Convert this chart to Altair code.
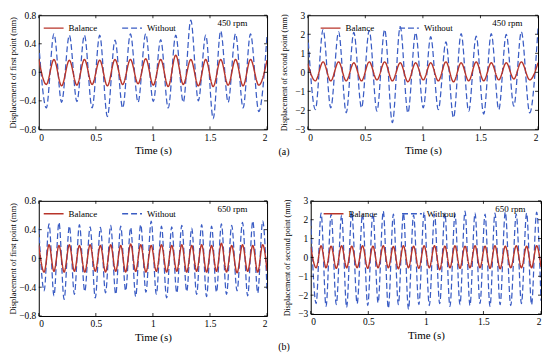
import altair as alt
import pandas as pd

FONT = "Liberation Serif"
RED = "#b8342a"
BLUE = "#3a5cc4"
SERIES = ["Balance", "Without"]

X_TICKS = [0, 0.5, 1, 1.5, 2]
Y_TICKS_1 = [-0.8, -0.4, 0, 0.4, 0.8]
Y_TICKS_2 = [-3, -2, -1, 0, 1, 2, 3]

# times of successive extrema (s)
t_450 = [0.000, 0.066, 0.133, 0.200, 0.268, 0.334, 0.400, 0.467, 0.534, 0.601,
         0.668, 0.735, 0.803, 0.870, 0.937, 1.003, 1.068, 1.134, 1.200, 1.266,
         1.332, 1.398, 1.463, 1.528, 1.594, 1.659, 1.724, 1.790, 1.855, 1.928, 2.000]
t_650 = [0.000, 0.047, 0.090, 0.133, 0.177, 0.222, 0.268, 0.312, 0.356, 0.403,
         0.450, 0.495, 0.540, 0.585, 0.630, 0.674, 0.718, 0.761, 0.805, 0.849,
         0.893, 0.939, 0.985, 1.030, 1.075, 1.120, 1.165, 1.209, 1.253, 1.296,
         1.340, 1.383, 1.427, 1.470, 1.514, 1.557, 1.600, 1.645, 1.690, 1.737,
         1.785, 1.830, 1.875, 1.918, 1.962, 2.000]

# 450 rpm, first point (mm)
wo_1 = [0.40, -0.50, 0.54, -0.42, 0.52, -0.41, 0.52, -0.50, 0.52, -0.62, 0.45,
        -0.50, 0.54, -0.42, 0.54, -0.41, 0.46, -0.50, 0.52, -0.42, 0.73, -0.40,
        0.52, -0.65, 0.58, -0.42, 0.54, -0.50, 0.54, -0.55, 0.52]
bal_1 = [0.18, -0.17, 0.18, -0.19, 0.17, -0.18, 0.18, -0.17, 0.17, -0.19, 0.18,
         -0.17, 0.18, -0.16, 0.19, -0.18, 0.18, -0.20, 0.24, -0.17, 0.18, -0.19,
         0.18, -0.20, 0.18, -0.18, 0.18, -0.19, 0.18, -0.18, 0.17]
# 450 rpm, second point (mm)
wo_2 = [2.04, -1.96, 2.25, -1.87, 2.13, -2.13, 2.10, -1.87, 2.20, -2.04, 2.25,
        -2.65, 2.40, -2.13, 2.08, -1.87, 1.87, -1.96, 1.60, -2.39, 2.04, -2.04,
        1.90, -2.20, 2.04, -1.96, 2.00, -1.78, 2.13, -2.13, 2.30]
bal_2 = [0.45, -0.45, 0.55, -0.45, 0.55, -0.45, 0.50, -0.45, 0.55, -0.40, 0.55,
         -0.45, 0.50, -0.50, 0.50, -0.40, 0.50, -0.45, 0.55, -0.50, 0.50, -0.45,
         0.55, -0.45, 0.50, -0.40, 0.50, -0.35, 0.55, -0.40, 0.50]
# 650 rpm, first point (mm)
wo_3 = [0.42, -0.45, 0.48, -0.52, 0.50, -0.57, 0.45, -0.50, 0.47, -0.46, 0.44,
        -0.55, 0.43, -0.48, 0.46, -0.50, 0.45, -0.45, 0.43, -0.53, 0.47, -0.47,
        0.52, -0.50, 0.45, -0.55, 0.44, -0.48, 0.46, -0.46, 0.42, -0.50, 0.47,
        -0.53, 0.45, -0.47, 0.48, -0.50, 0.46, -0.45, 0.50, -0.52, 0.52, -0.48,
        0.52, -0.45]
bal_3 = [0.18, -0.19, 0.19, -0.18, 0.18, -0.19, 0.19, -0.18, 0.18, -0.19, 0.19,
         -0.18, 0.18, -0.19, 0.19, -0.18, 0.18, -0.19, 0.20, -0.18, 0.19, -0.19,
         0.18, -0.18, 0.19, -0.19, 0.18, -0.18, 0.19, -0.19, 0.18, -0.18, 0.19,
         -0.19, 0.18, -0.18, 0.21, -0.19, 0.18, -0.20, 0.19, -0.18, 0.18, -0.19,
         0.19, -0.17]
# 650 rpm, second point (mm)
wo_4 = [2.00, -2.45, 2.35, -2.60, 2.30, -2.50, 2.25, -2.65, 2.40, -2.45, 2.30,
        -2.55, 2.35, -2.40, 2.45, -2.70, 2.30, -2.50, 2.35, -2.75, 2.25, -2.50,
        2.40, -2.55, 2.30, -2.45, 2.35, -2.60, 2.30, -2.50, 2.45, -2.55, 2.35,
        -2.45, 2.30, -2.60, 2.35, -2.50, 2.40, -2.55, 2.30, -2.45, 2.35, -2.50,
        2.40, -2.30]
bal_4 = [0.55, -0.55, 0.62, -0.55, 0.60, -0.58, 0.62, -0.55, 0.60, -0.55, 0.62,
         -0.58, 0.60, -0.55, 0.62, -0.55, 0.58, -0.60, 0.62, -0.55, 0.60, -0.58,
         0.62, -0.55, 0.62, -0.65, 0.60, -0.55, 0.62, -0.58, 0.60, -0.55, 0.62,
         -0.55, 0.60, -0.58, 0.62, -0.60, 0.60, -0.55, 0.62, -0.55, 0.60, -0.55,
         0.62, -0.50]


def panel(t, bal, wo, ydom, yticks, ytitle, tfs, rpm, W, H, tpad, legx, rpmx, sub=None):
    n = len(t)
    df = pd.DataFrame({"t": list(t) * 2, "v": bal + wo,
                       "s": ["Balance"] * n + ["Without"] * n})

    def xenc(f):
        return alt.X(f, scale=alt.Scale(domain=[0, 2], nice=False, zero=False),
                     axis=alt.Axis(values=X_TICKS, format="~g", title="Time (s)",
                                   titleFontSize=11, labelPadding=3, titlePadding=3))

    def yenc(f):
        return alt.Y(f, scale=alt.Scale(domain=ydom, nice=False, zero=False),
                     axis=alt.Axis(values=yticks, format="~g", title=ytitle,
                                   titleFontSize=tfs, titlePadding=tpad, labelPadding=3))

    leg = dict(orient="none", legendX=legx, legendY=2, direction="horizontal",
               title=None, symbolType="stroke", symbolSize=400, symbolStrokeWidth=1.3,
               labelFont=FONT, labelFontSize=9, columnPadding=22, labelOffset=4)
    color = alt.Color("s:N", scale=alt.Scale(domain=SERIES, range=[RED, BLUE]),
                      legend=alt.Legend(**leg))
    dash = alt.StrokeDash("s:N", scale=alt.Scale(domain=SERIES, range=[[1, 0], [6, 3]]),
                          legend=alt.Legend(**leg))

    base = alt.Chart(df)
    without = base.transform_filter(alt.datum.s == "Without").mark_line(
        strokeWidth=1.25, interpolate="monotone", clip=True
    ).encode(x=xenc("t:Q"), y=yenc("v:Q"), color=color, strokeDash=dash)
    balance = base.transform_filter(alt.datum.s == "Balance").mark_line(
        strokeWidth=1.4, interpolate="monotone", clip=True
    ).encode(x=xenc("t:Q"), y=yenc("v:Q"), color=color, strokeDash=dash)

    xt = alt.Chart(pd.DataFrame({"xv": X_TICKS}))
    yt = alt.Chart(pd.DataFrame({"yv": yticks}))
    tb = xt.mark_rule(color="black", strokeWidth=0.8).encode(
        x=xenc("xv:Q"), y=alt.value(H), y2=alt.value(H - 3))
    tt = xt.mark_rule(color="black", strokeWidth=0.8).encode(
        x=xenc("xv:Q"), y=alt.value(0), y2=alt.value(3))
    tl = yt.mark_rule(color="black", strokeWidth=0.8).encode(
        y=yenc("yv:Q"), x=alt.value(0), x2=alt.value(3))
    tr = yt.mark_rule(color="black", strokeWidth=0.8).encode(
        y=yenc("yv:Q"), x=alt.value(W), x2=alt.value(W - 3))

    rpm_txt = alt.Chart(pd.DataFrame({"txt": [rpm]})).mark_text(
        font=FONT, fontSize=9, align="left", baseline="middle", color="black"
    ).encode(text="txt:N", x=alt.value(rpmx), y=alt.value(8))

    layers = [without, balance, tb, tt, tl, tr, rpm_txt]
    if sub is not None:
        sub_txt = alt.Chart(pd.DataFrame({"txt": [sub[0]]})).mark_text(
            font=FONT, fontSize=10, align="center", baseline="middle", color="black"
        ).encode(text="txt:N", x=alt.value(sub[1]), y=alt.value(sub[2]))
        layers.append(sub_txt)
    return alt.layer(*layers).properties(width=W, height=H)


p1 = panel(t_450, bal_1, wo_1, [-0.8, 0.8], Y_TICKS_1,
           "Displacement of first point (mm)", 8.5, "450 rpm", 230, 115, 1, 4, 180)
p2 = panel(t_450, bal_2, wo_2, [-3, 3], Y_TICKS_2,
           "Displacement of second point (mm)", 8.2, "450 rpm", 232, 115, 6, 12, 186,
           sub=("(a)", -24, 138))
p3 = panel(t_650, bal_3, wo_3, [-0.8, 0.8], Y_TICKS_1,
           "Displacement of first point (mm)", 8.5, "650 rpm", 230, 116, 1, 4, 180)
p4 = panel(t_650, bal_4, wo_4, [-3, 3], Y_TICKS_2,
           "Displacement of second point (mm)", 8.2, "650 rpm", 232, 114, 6, 12, 186,
           sub=("(b)", -27, 147))

row1 = alt.hconcat(p1, p2, spacing=9).resolve_scale(
    color="independent", strokeDash="independent").resolve_legend(
    color="independent", strokeDash="independent")
row2 = alt.hconcat(p3, p4, spacing=9).resolve_scale(
    color="independent", strokeDash="independent").resolve_legend(
    color="independent", strokeDash="independent")

chart = alt.vconcat(row1, row2, spacing=37).resolve_scale(
    color="independent", strokeDash="independent").resolve_legend(
    color="independent", strokeDash="independent").configure(
    font=FONT, padding={"left": 0, "top": 0, "right": 0, "bottom": 0}
).configure_view(stroke="black", strokeWidth=1).configure_axis(
    grid=False, domain=False, ticks=False, labelFont=FONT, titleFont=FONT,
    labelColor="black", titleColor="black", titleFontWeight="normal", labelFontSize=9.5
)

chart.save("out.html", embed_options={"renderer": "svg", "actions": False})
